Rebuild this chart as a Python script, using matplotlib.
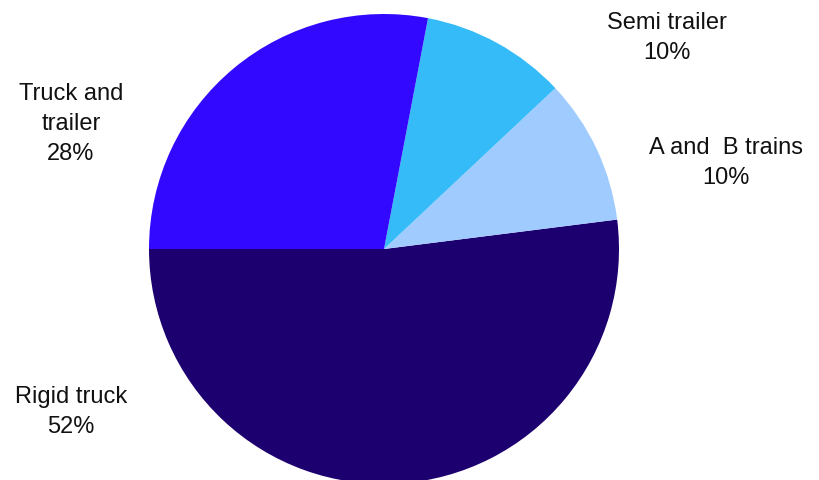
import matplotlib.pyplot as plt

plt.rcParams['font.family'] = ['Liberation Sans', 'DejaVu Sans']

# vehicle configuration share (%)
categories = ['Rigid truck', 'A and  B trains', 'Semi trailer', 'Truck and\ntrailer']
shares = [52, 10, 10, 28]
colors = ['#1d0070', '#9fcbff', '#35bbf7', '#3208ff']

# label anchor points in pixel space (x from left, y from bottom)
label_pos = [(71, 69), (726, 318), (667, 443), (71, 357)]

fig = plt.figure(figsize=(8.19, 4.81), dpi=100)
ax = fig.add_axes([0, 0, 1, 1])

ax.pie(shares, colors=colors, startangle=180, counterclock=True,
       center=(384, 231), radius=235,
       wedgeprops=dict(linewidth=0))

for name, val, (x, y) in zip(categories, shares, label_pos):
    ax.text(x, y, f'{name}\n{val}%', ha='center', va='center',
            fontsize=17, linespacing=1.45, color='#111111')

ax.set_xlim(0, 819)
ax.set_ylim(0, 481)
ax.set_aspect('equal')
ax.axis('off')

fig.savefig('out.png', dpi=100)
